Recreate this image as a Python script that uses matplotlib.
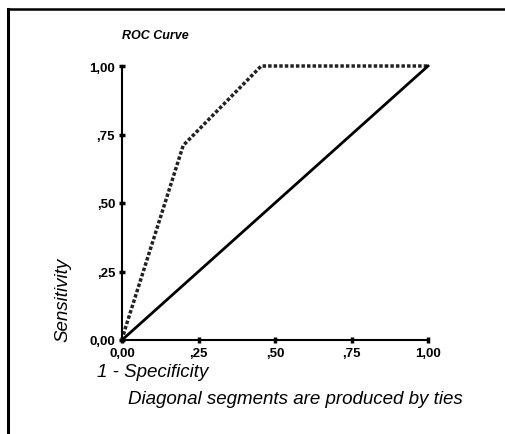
import matplotlib.pyplot as plt
from matplotlib.lines import Line2D

# ROC curve points
fpr = [0.0, 0.01, 0.20, 0.455, 1.0]
tpr = [0.0, 0.04, 0.71, 1.0, 1.0]
ref_x = [0.0, 1.0]
ref_y = [0.0, 1.0]
tick_vals = [0.0, 0.25, 0.50, 0.75, 1.0]
tick_labels = ['0,00', ',25', ',50', ',75', '1,00']

plt.rcParams['font.family'] = ['Liberation Sans', 'DejaVu Sans']

fig = plt.figure(figsize=(5.05, 4.35), dpi=100)
W, H = 505, 435

# frame: top and left edges only
fig.add_artist(Line2D([8 / W, 1.0], [1 - 10 / H, 1 - 10 / H], transform=fig.transFigure,
                      color='black', linewidth=1.8))
fig.add_artist(Line2D([8 / W, 8 / W], [0.0, 1 - 10 / H], transform=fig.transFigure,
                      color='black', linewidth=2.2))

ax = fig.add_axes([122 / W, (435 - 341) / H, 306 / W, 274 / H])
ax.plot(fpr, tpr, color='#222222', linewidth=2.5, linestyle=(0, (1, 0.6)), clip_on=False)
ax.plot(ref_x, ref_y, color='black', linewidth=2, clip_on=False)

ax.set_xlim(0, 1)
ax.set_ylim(0, 1)
for s in ['top', 'right']:
    ax.spines[s].set_visible(False)
for s in ['left', 'bottom']:
    ax.spines[s].set_linewidth(1.5)

ax.set_xticks(tick_vals)
ax.set_xticklabels(tick_labels)
ax.set_yticks(tick_vals)
ax.set_yticklabels(tick_labels)
ax.tick_params(direction='inout', length=4, width=2.5, labelsize=9.5, pad=3)
for lab in ax.get_xticklabels() + ax.get_yticklabels():
    lab.set_fontweight('bold')

fig.text(122 / W, 1 - 36 / H, 'ROC Curve', fontsize=9, style='italic',
         fontweight='bold', va='center', ha='left')
fig.text(63 / W, 1 - 300 / H, 'Sensitivity', fontsize=13.5, style='italic',
         rotation=90, va='center', ha='center')
fig.text(97 / W, 1 - 373 / H, '1 - Specificity', fontsize=13.5, style='italic',
         va='center', ha='left')
fig.text(128 / W, 1 - 400 / H, 'Diagonal segments are produced by ties', fontsize=13.5,
         style='italic', va='center', ha='left')

fig.savefig('out.png', dpi=100)
